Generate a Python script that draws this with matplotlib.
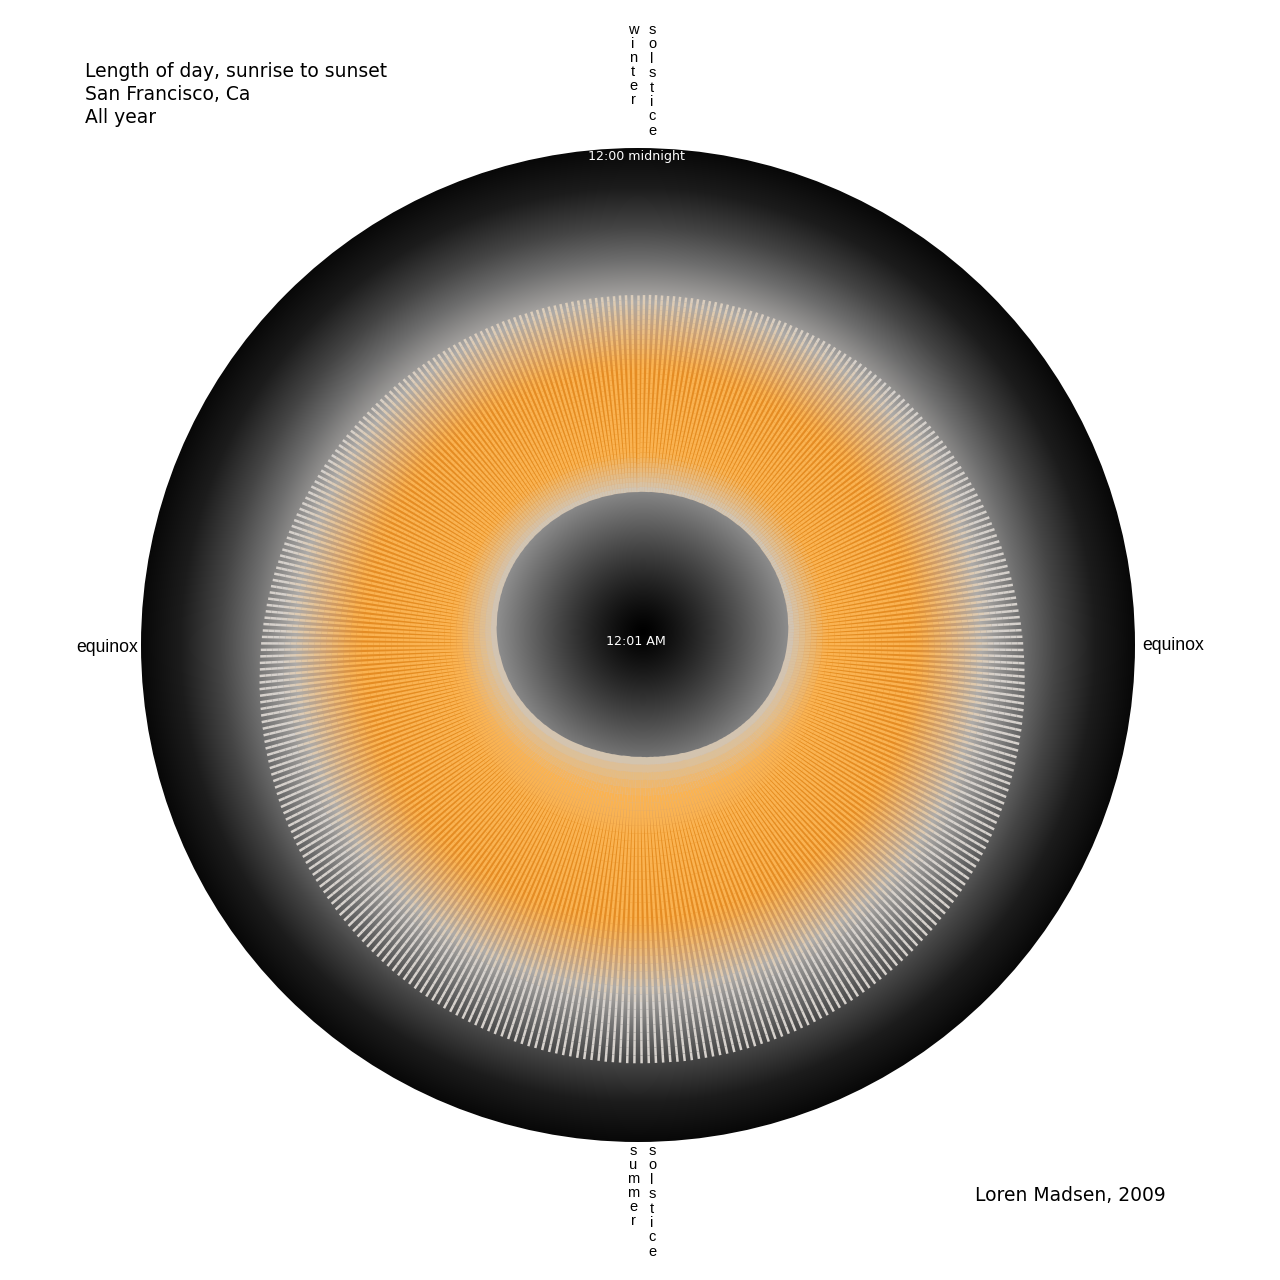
import numpy as np
import matplotlib
matplotlib.use("Agg")
import matplotlib.pyplot as plt
from matplotlib.collections import LineCollection
from matplotlib.patches import Circle, Polygon

# ---------------- data: one ray per day, starting at the winter solstice ----------------
# sunrise / sunset, minutes after midnight
sunrise_min = [
    443, 444, 444, 444, 444, 445, 445, 445, 445, 446, 446, 446, 446, 447, 447,
    447, 447, 448, 448, 448, 448, 449, 449, 449, 449, 450, 450, 450, 450, 451,
    451, 451, 451, 451, 451, 452, 452, 452, 452, 452, 452, 453, 453, 453, 453,
    453, 453, 453, 453, 453, 453, 453, 453, 452, 452, 452, 452, 452, 452, 452,
    451, 451, 451, 451, 450, 450, 450, 449, 449, 448, 448, 447, 447, 446, 446,
    445, 445, 444, 443, 443, 442, 441, 440, 439, 439, 438, 437, 436, 435, 434,
    433, 432, 431, 430, 429, 428, 427, 426, 424, 423, 422, 421, 420, 418, 417,
    416, 414, 413, 412, 410, 409, 407, 406, 405, 403, 402, 400, 399, 397, 396,
    394, 393, 391, 390, 388, 387, 385, 383, 382, 380, 379, 377, 376, 374, 373,
    371, 370, 368, 367, 365, 364, 362, 361, 360, 358, 357, 355, 354, 353, 351,
    350, 349, 348, 346, 345, 344, 343, 342, 341, 340, 338, 337, 337, 336, 335,
    334, 333, 332, 331, 331, 330, 329, 329, 328, 327, 327, 326, 326, 326, 325,
    325, 324, 324, 324, 324, 324, 324, 323, 323, 323, 323, 324, 324, 324, 324,
    324, 325, 325, 325, 326, 326, 326, 327, 327, 328, 328, 329, 330, 330, 331,
    332, 333, 333, 334, 335, 336, 337, 338, 339, 340, 341, 342, 343, 344, 345,
    346, 347, 348, 350, 351, 352, 353, 354, 356, 357, 358, 359, 361, 362, 363,
    364, 366, 367, 368, 370, 371, 372, 373, 375, 376, 377, 379, 380, 381, 383,
    384, 385, 386, 388, 389, 390, 391, 392, 394, 395, 396, 397, 398, 399, 400,
    402, 403, 404, 405, 406, 407, 408, 409, 410, 411, 412, 413, 413, 414, 415,
    416, 417, 418, 418, 419, 420, 421, 421, 422, 423, 423, 424, 425, 425, 426,
    426, 427, 427, 428, 428, 429, 429, 430, 430, 431, 431, 431, 432, 432, 432,
    433, 433, 433, 434, 434, 434, 435, 435, 435, 435, 436, 436, 436, 436, 437,
    437, 437, 437, 437, 438, 438, 438, 438, 438, 438, 439, 439, 439, 439, 439,
    439, 440, 440, 440, 440, 440, 441, 441, 441, 441, 441, 442, 442, 442, 442,
    442, 443, 443, 443, 443,
]
sunset_min = [
    1014, 1014, 1015, 1015, 1015, 1015, 1016, 1016, 1016, 1017, 1017, 1018, 1018, 1019, 1019,
    1020, 1020, 1021, 1022, 1022, 1023, 1024, 1024, 1025, 1026, 1027, 1027, 1028, 1029, 1030,
    1031, 1032, 1033, 1034, 1034, 1035, 1036, 1037, 1039, 1040, 1041, 1042, 1043, 1044, 1045,
    1046, 1047, 1049, 1050, 1051, 1052, 1054, 1055, 1056, 1058, 1059, 1060, 1062, 1063, 1065,
    1066, 1067, 1069, 1070, 1072, 1073, 1075, 1076, 1078, 1079, 1081, 1083, 1084, 1086, 1087,
    1089, 1091, 1092, 1094, 1095, 1097, 1099, 1100, 1102, 1104, 1105, 1107, 1109, 1111, 1112,
    1114, 1116, 1117, 1119, 1121, 1122, 1124, 1126, 1128, 1129, 1131, 1133, 1134, 1136, 1138,
    1139, 1141, 1143, 1144, 1146, 1148, 1149, 1151, 1153, 1154, 1156, 1157, 1159, 1160, 1162,
    1164, 1165, 1167, 1168, 1170, 1171, 1172, 1174, 1175, 1177, 1178, 1179, 1181, 1182, 1183,
    1185, 1186, 1187, 1188, 1189, 1191, 1192, 1193, 1194, 1195, 1196, 1197, 1198, 1199, 1200,
    1201, 1202, 1202, 1203, 1204, 1205, 1205, 1206, 1207, 1207, 1208, 1208, 1209, 1209, 1210,
    1210, 1211, 1211, 1211, 1212, 1212, 1212, 1212, 1212, 1212, 1213, 1213, 1213, 1212, 1212,
    1212, 1212, 1212, 1212, 1212, 1211, 1211, 1211, 1210, 1210, 1210, 1209, 1208, 1208, 1207,
    1207, 1206, 1205, 1205, 1204, 1203, 1202, 1201, 1201, 1200, 1199, 1198, 1197, 1196, 1195,
    1194, 1193, 1191, 1190, 1189, 1188, 1187, 1185, 1184, 1183, 1182, 1180, 1179, 1177, 1176,
    1175, 1173, 1172, 1170, 1169, 1167, 1166, 1164, 1162, 1161, 1159, 1158, 1156, 1154, 1153,
    1151, 1149, 1148, 1146, 1144, 1142, 1141, 1139, 1137, 1136, 1134, 1132, 1130, 1128, 1127,
    1125, 1123, 1121, 1120, 1118, 1116, 1114, 1113, 1111, 1109, 1107, 1105, 1104, 1102, 1100,
    1098, 1097, 1095, 1093, 1092, 1090, 1088, 1087, 1085, 1083, 1082, 1080, 1078, 1077, 1075,
    1074, 1072, 1070, 1069, 1067, 1066, 1064, 1063, 1061, 1060, 1059, 1057, 1056, 1054, 1053,
    1052, 1050, 1049, 1048, 1047, 1045, 1044, 1043, 1042, 1041, 1040, 1038, 1037, 1036, 1035,
    1034, 1033, 1032, 1031, 1030, 1029, 1029, 1028, 1027, 1026, 1025, 1025, 1024, 1023, 1022,
    1022, 1021, 1021, 1020, 1019, 1019, 1018, 1018, 1017, 1017, 1016, 1016, 1016, 1015, 1015,
    1015, 1014, 1014, 1014, 1014, 1014, 1013, 1013, 1013, 1013, 1013, 1013, 1013, 1013, 1013,
    1013, 1013, 1014, 1014, 1014,
]

title_lines = ["Length of day, sunrise to sunset", "San Francisco, Ca", "All year"]
credit = "Loren Madsen, 2009"
top_word_left, top_word_right = "winter", "solstice"
bottom_word_left, bottom_word_right = "summer", "solstice"
side_label = "equinox"
outer_label = "12:00 midnight"
center_label = "12:01 AM"

# ---------------- figure ----------------
fig = plt.figure(figsize=(12.8, 12.8), dpi=100, facecolor="white")
ax = fig.add_axes([0, 0, 1, 1])
ax.set_facecolor("white")

CX, CY, R = 638.0, 645.0, 497.0
yy, xx = np.mgrid[0:1280, 0:1280] + 0.5
rho = np.hypot(xx - CX, yy - CY) / R

# background radial gradient of the big disk
stops = [0.0, 0.30, 0.38, 0.55, 0.63, 0.69, 0.775, 0.84, 0.92, 1.0]
rc = [0.82, 0.84, 0.90, 0.90, 0.80, 0.68, 0.43, 0.27, 0.11, 0.03]
gc = [0.80, 0.76, 0.55, 0.55, 0.62, 0.67, 0.43, 0.27, 0.11, 0.03]
bc = [0.78, 0.70, 0.12, 0.14, 0.44, 0.66, 0.43, 0.27, 0.11, 0.03]
bg = np.dstack([np.interp(rho, stops, c) for c in (rc, gc, bc)])
im = ax.imshow(bg, extent=(0, 1280, 1280, 0), origin="upper", zorder=1,
               interpolation="bilinear")
disk = Circle((CX, CY), R, transform=ax.transData)
im.set_clip_path(disk)

# rays: sunrise -> sunset, radius = time of day / 24 h
n = len(sunrise_min)
theta = 2 * np.pi * np.arange(n) / n
rs = np.asarray(sunrise_min, float) / 1440.0 * R
re = np.asarray(sunset_min, float) / 1440.0 * R

start_c = np.array([0.80, 0.78, 0.75])
orange_c = np.array([0.98, 0.70, 0.32])
pale_c = np.array([0.84, 0.82, 0.80])
K = 40
tt = np.linspace(0, 1, K + 1)
segs, cols = [], []
for i in range(n):
    r = rs[i] + (re[i] - rs[i]) * tt
    x = CX + r * np.sin(theta[i])
    y = CY - r * np.cos(theta[i])
    pts = np.column_stack([x, y])
    segs.append(np.stack([pts[:-1], pts[1:]], axis=1))
    rm = 0.5 * (r[:-1] + r[1:])
    ws = np.clip((rm - rs[i]) / 40.0, 0, 1)[:, None] ** 0.8
    we = np.clip((rm / R - 0.57) / 0.15, 0, 1)[:, None]
    c = start_c * (1 - ws) + orange_c * ws
    c = c * (1 - we) + pale_c * we
    cols.append(c)
segs = np.concatenate(segs)
cols = np.concatenate(cols)
lc = LineCollection(segs, colors=cols, linewidths=1.8, capstyle="butt", zorder=2)
ax.add_collection(lc)

# inner (night before sunrise) shape with dark radial gradient
poly_pts = np.column_stack([CX + rs * np.sin(theta), CY - rs * np.cos(theta)])
poly = Polygon(poly_pts, closed=True, transform=ax.transData)
d = np.hypot(xx - 643, yy - 632)
g = 0.55 * np.clip(d / 145.0, 0, 1) ** 1.3
inner = np.dstack([g, g, g])
im2 = ax.imshow(inner, extent=(0, 1280, 1280, 0), origin="upper", zorder=3,
                interpolation="bilinear")
im2.set_clip_path(poly)

# ---------------- texts ----------------
for k, line in enumerate(title_lines):
    ax.text(85, 77 + 23 * k, line, fontsize=13.5, family="DejaVu Sans",
            color="black", ha="left", va="baseline")
ax.text(975, 1201, credit, fontsize=13.5, family="DejaVu Sans",
        color="black", ha="left", va="baseline")

ax.text(636.5, 160, outer_label, fontsize=9.1, family="DejaVu Sans",
        color="white", ha="center", va="baseline", zorder=5)
ax.text(636, 645, center_label, fontsize=9.1, family="DejaVu Sans",
        color="white", ha="center", va="baseline", zorder=5)

ax.text(76, 651.5, side_label, fontsize=12.7, family="Liberation Sans",
        color="black", ha="left", va="baseline")
ax.text(1142, 650, side_label, fontsize=12.7, family="Liberation Sans",
        color="black", ha="left", va="baseline")


def stacked(word, x, y0, step):
    for j, ch in enumerate(word):
        ax.text(x, y0 + step * j, ch, fontsize=10.5, family="Liberation Sans",
                color="black", ha="center", va="baseline")


stacked(top_word_left, 633, 34, 14.0)
stacked(top_word_right, 652, 34, 14.4)
stacked(bottom_word_left, 633, 1155, 14.0)
stacked(bottom_word_right, 652, 1155, 14.4)

ax.set_xlim(0, 1280)
ax.set_ylim(1280, 0)
ax.axis("off")
fig.savefig("out.png", dpi=100, facecolor="white")
